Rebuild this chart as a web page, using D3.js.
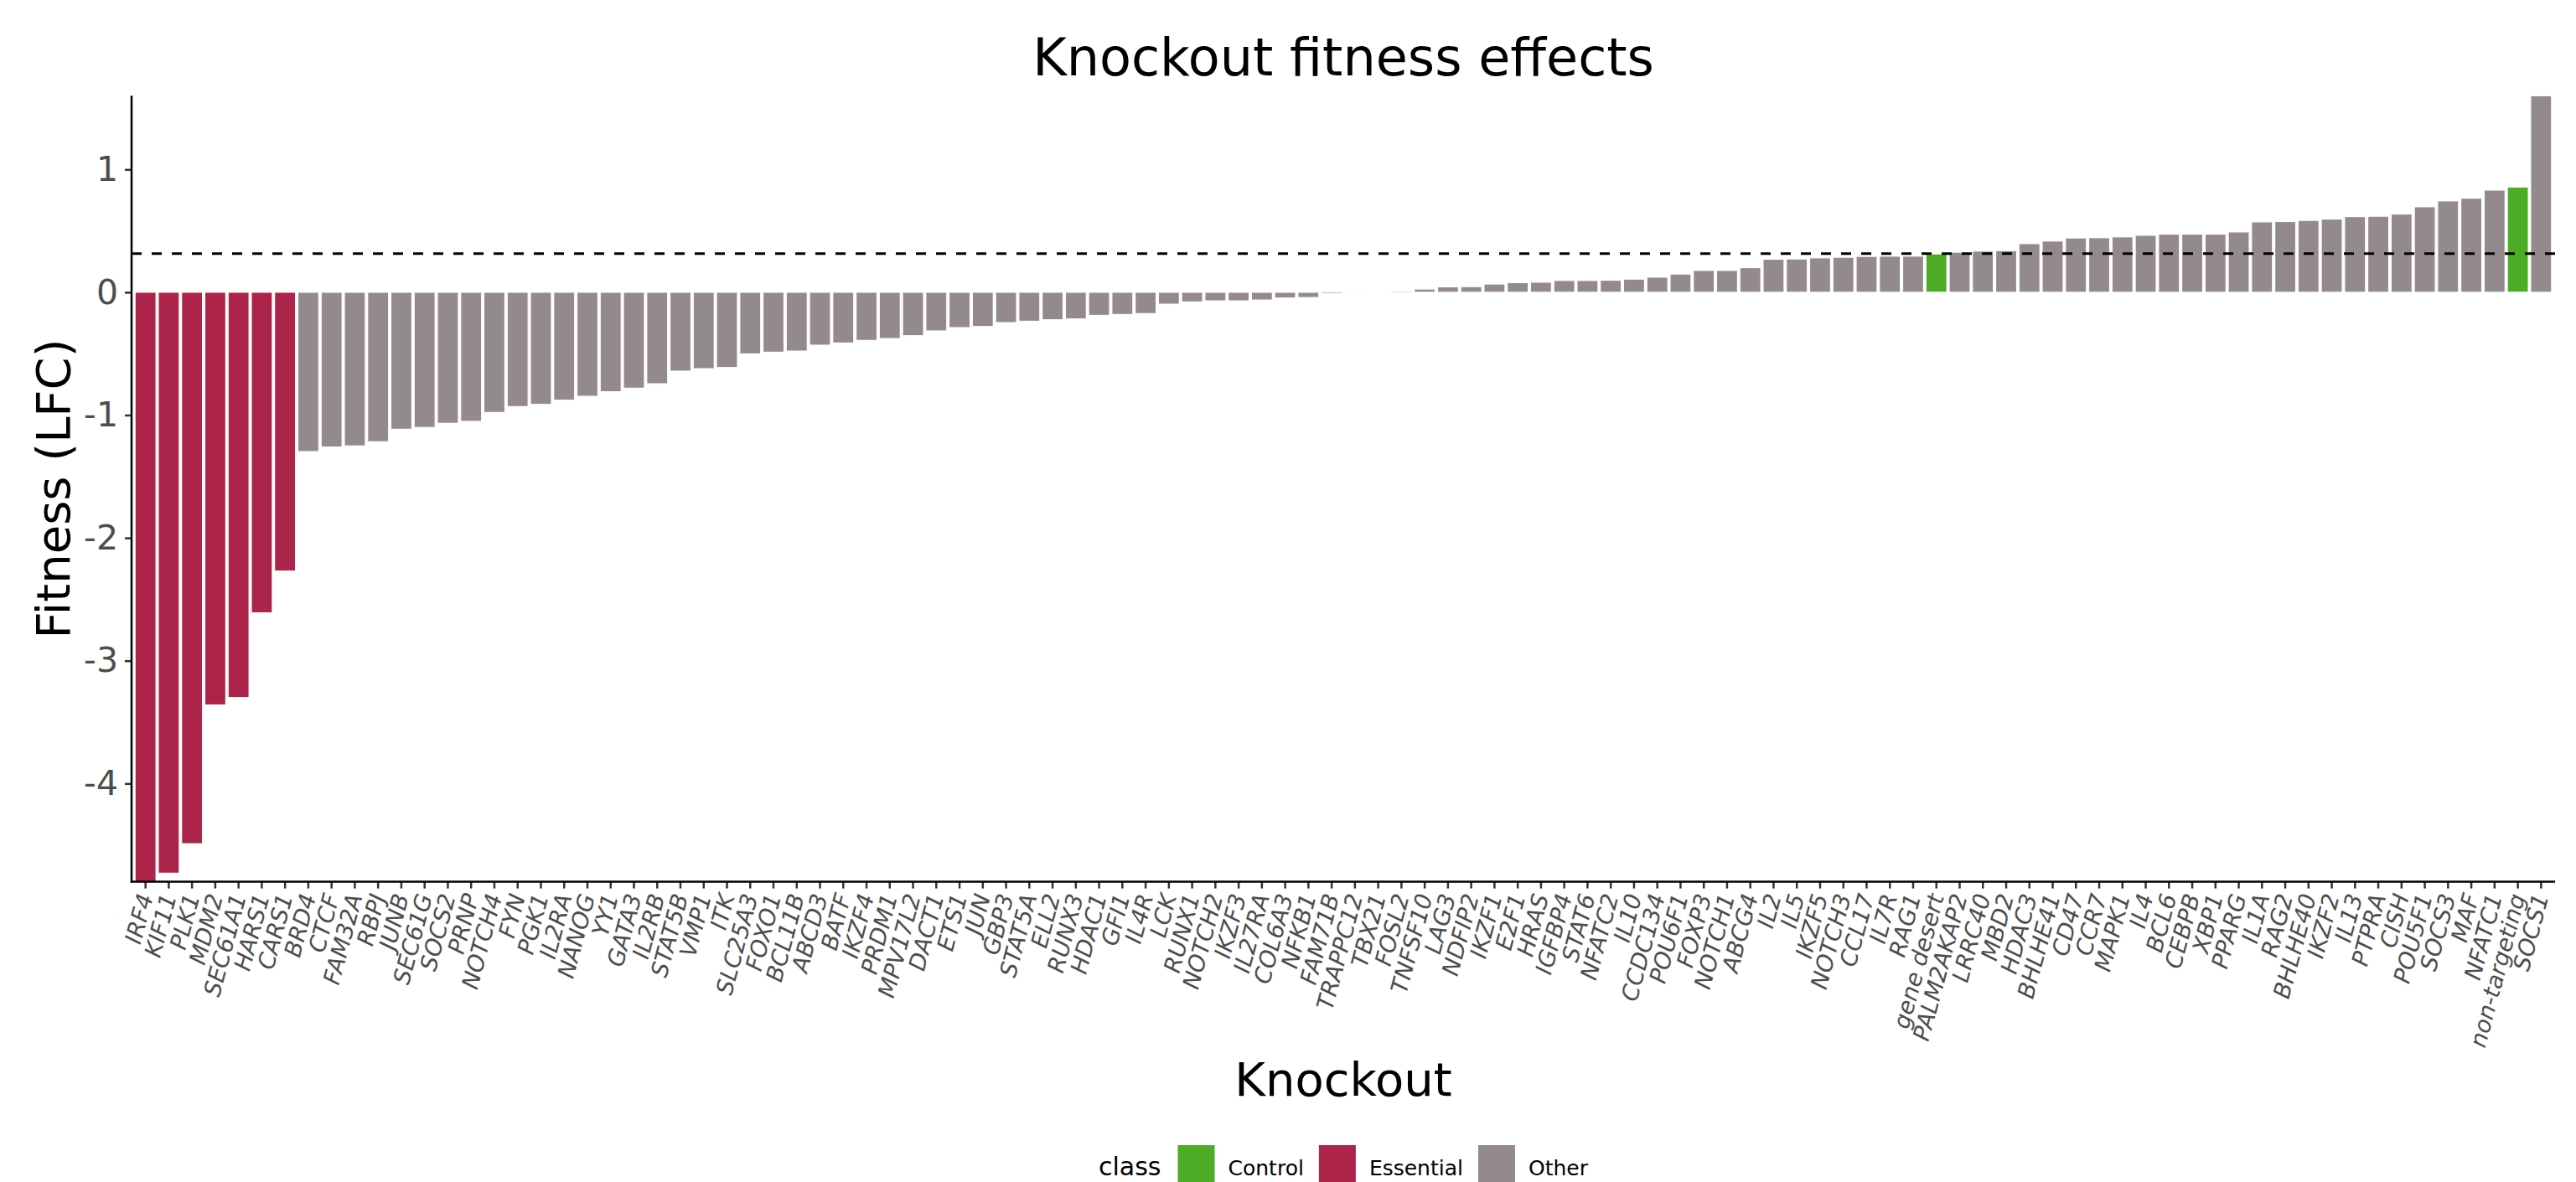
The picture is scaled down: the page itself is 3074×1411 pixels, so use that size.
<!DOCTYPE html>
<html>
<head>
<meta charset="utf-8">
<script src="https://cdn.jsdelivr.net/npm/d3@7"></script>
<style>
  html, body { margin: 0; padding: 0; background: #ffffff; }
  svg { display: block; }
  text { font-family: "DejaVu Sans", sans-serif; }
</style>
</head>
<body>
<script>
// ---------------- data ----------------
const knockouts = [
  "IRF4","KIF11","PLK1","MDM2","SEC61A1","HARS1","CARS1","BRD4","CTCF","FAM32A",
  "RBPJ","JUNB","SEC61G","SOCS2","PRNP","NOTCH4","FYN","PGK1","IL2RA","NANOG",
  "YY1","GATA3","IL2RB","STAT5B","VMP1","ITK","SLC25A3","FOXO1","BCL11B","ABCD3",
  "BATF","IKZF4","PRDM1","MPV17L2","DACT1","ETS1","JUN","GBP3","STAT5A","ELL2",
  "RUNX3","HDAC1","GFI1","IL4R","LCK","RUNX1","NOTCH2","IKZF3","IL27RA","COL6A3",
  "NFKB1","FAM71B","TRAPPC12","TBX21","FOSL2","TNFSF10","LAG3","NDFIP2","IKZF1","E2F1",
  "HRAS","IGFBP4","STAT6","NFATC2","IL10","CCDC134","POU6F1","FOXP3","NOTCH1","ABCG4",
  "IL2","IL5","IKZF5","NOTCH3","CCL17","IL7R","RAG1","gene desert","PALM2AKAP2","LRRC40",
  "MBD2","HDAC3","BHLHE41","CD47","CCR7","MAPK1","IL4","BCL6","CEBPB","XBP1",
  "PPARG","IL1A","RAG2","BHLHE40","IKZF2","IL13","PTPRA","CISH","POU5F1","SOCS3",
  "MAF","NFATC1","non-targeting","SOCS1"
];

const fitness = [
  -4.80,-4.73,-4.49,-3.36,-3.30,-2.61,-2.27,-1.297,-1.260,-1.251,
  -1.217,-1.115,-1.101,-1.067,-1.051,-0.979,-0.931,-0.913,-0.879,-0.847,
  -0.810,-0.781,-0.745,-0.642,-0.622,-0.613,-0.502,-0.488,-0.479,-0.431,
  -0.413,-0.392,-0.377,-0.354,-0.315,-0.288,-0.279,-0.247,-0.236,-0.224,
  -0.217,-0.188,-0.181,-0.174,-0.097,-0.079,-0.070,-0.070,-0.063,-0.047,
  -0.043,-0.012,-0.004,0.003,0.010,0.026,0.044,0.046,0.067,0.078,
  0.082,0.096,0.096,0.098,0.107,0.123,0.148,0.178,0.178,0.200,
  0.269,0.271,0.280,0.285,0.292,0.294,0.294,0.312,0.326,0.335,
  0.339,0.396,0.417,0.442,0.444,0.451,0.464,0.473,0.473,0.473,
  0.491,0.573,0.576,0.585,0.596,0.616,0.619,0.637,0.696,0.744,
  0.766,0.832,0.857,1.60
];

const classes = knockouts.map((k, i) =>
  i < 7 ? "Essential" : (k === "gene desert" || k === "non-targeting") ? "Control" : "Other"
);

const classNames = ["Control", "Essential", "Other"];
const yTicks = [-4, -3, -2, -1, 0, 1];
const yTickLabels = ["-4", "-3", "-2", "-1", "0", "1"];
const threshold = 0.315;

const titleText = "Knockout fitness effects";
const xTitle = "Knockout";
const yTitle = "Fitness (LFC)";
const legendTitle = "class";

// ---------------- layout ----------------
const W = 3074, H = 1411;
const panel = { left: 157, right: 3049, top: 114.3, bottom: 1052.6 };

const svg = d3.select("body").append("svg")
  .attr("width", W).attr("height", H)
  .attr("viewBox", `0 0 ${W} ${H}`);

svg.append("rect").attr("width", W).attr("height", H).attr("fill", "#ffffff");

const x = d3.scaleBand()
  .domain(knockouts)
  .range([panel.left, panel.right])
  .paddingInner(0.1)
  .paddingOuter(0.15);

const y = d3.scaleLinear()
  .domain(d3.extent(fitness))
  .range([panel.bottom, panel.top]);

const color = d3.scaleOrdinal()
  .domain(classNames)
  .range(["#4DAC26", "#AC2449", "#948A8D"]);

const data = knockouts.map((k, i) => ({ k, v: fitness[i], c: classes[i] }));

// bars
svg.append("g").selectAll("rect")
  .data(data)
  .join("rect")
  .attr("x", d => x(d.k))
  .attr("width", x.bandwidth())
  .attr("y", d => y(Math.max(0, d.v)))
  .attr("height", d => Math.abs(y(d.v) - y(0)))
  .attr("fill", d => color(d.c))
  .attr("stroke", "#ffffff")
  .attr("stroke-width", 1.2);

// dashed threshold line
svg.append("line")
  .attr("x1", panel.left).attr("x2", panel.right)
  .attr("y1", y(threshold)).attr("y2", y(threshold))
  .attr("stroke", "#000000")
  .attr("stroke-width", 3)
  .attr("stroke-dasharray", "12,12");

// y axis
const yAxis = svg.append("g")
  .attr("transform", `translate(${panel.left},0)`)
  .call(d3.axisLeft(y).tickValues(yTicks)
    .tickFormat((d, i) => yTickLabels[i]).tickSize(8).tickPadding(8));
yAxis.select(".domain").remove();
yAxis.selectAll(".tick line").attr("stroke", "#333333").attr("stroke-width", 2.5);
yAxis.selectAll(".tick text")
  .attr("fill", "#4D4D4D")
  .style("font-size", "41px")
  .style("font-family", "DejaVu Sans, sans-serif");

// x axis
const xAxis = svg.append("g")
  .attr("transform", `translate(0,${panel.bottom})`)
  .call(d3.axisBottom(x).tickSize(8).tickPadding(0));
xAxis.select(".domain").remove();
xAxis.selectAll(".tick line").attr("stroke", "#333333").attr("stroke-width", 2.5);
xAxis.selectAll(".tick text")
  .attr("fill", "#4D4D4D")
  .attr("text-anchor", "end")
  .attr("y", 0)
  .attr("dy", "0.35em")
  .attr("transform", "translate(0,15) rotate(-75)")
  .style("font-size", "27.5px")
  .style("font-style", "italic")
  .style("font-family", "DejaVu Sans, sans-serif");

// axis lines
svg.append("line")
  .attr("x1", panel.left).attr("x2", panel.left)
  .attr("y1", panel.top).attr("y2", panel.bottom + 1.2)
  .attr("stroke", "#000000").attr("stroke-width", 2.5);
svg.append("line")
  .attr("x1", panel.left - 1.2).attr("x2", panel.right)
  .attr("y1", panel.bottom).attr("y2", panel.bottom)
  .attr("stroke", "#000000").attr("stroke-width", 2.5);

const cx = (panel.left + panel.right) / 2;

// title
svg.append("text")
  .attr("x", cx).attr("y", 90)
  .attr("text-anchor", "middle")
  .attr("fill", "#000000")
  .style("font-size", "62px")
  .text(titleText);

// axis titles
svg.append("text")
  .attr("x", cx).attr("y", 1308)
  .attr("text-anchor", "middle")
  .attr("fill", "#000000")
  .style("font-size", "56px")
  .text(xTitle);

svg.append("text")
  .attr("transform", `translate(83,${(panel.top + panel.bottom) / 2}) rotate(-90)`)
  .attr("text-anchor", "middle")
  .attr("fill", "#000000")
  .style("font-size", "56px")
  .text(yTitle);

// legend
const legend = svg.append("g");
const keySize = 44;
const keyTop = 1367;
const textBase = 1403;
let lx = 0;
const lt = legend.append("text")
  .attr("x", lx).attr("y", textBase)
  .attr("fill", "#000000")
  .style("font-size", "30px")
  .text(legendTitle);
lx += lt.node().getComputedTextLength() + 20;
classNames.forEach((c, i) => {
  legend.append("rect")
    .attr("x", lx).attr("y", keyTop)
    .attr("width", keySize).attr("height", keySize)
    .attr("fill", color(c));
  lx += keySize + 16;
  const t = legend.append("text")
    .attr("x", lx).attr("y", textBase)
    .attr("fill", "#000000")
    .style("font-size", "25px")
    .text(c);
  lx += t.node().getComputedTextLength() + (i < classNames.length - 1 ? 18 : 0);
});
legend.attr("transform", `translate(${cx - lx / 2},0)`);
</script>
</body>
</html>
